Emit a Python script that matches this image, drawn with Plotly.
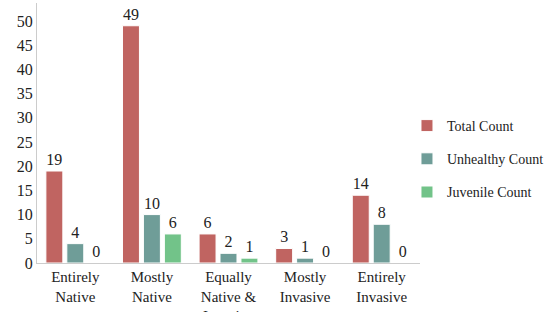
import plotly.graph_objects as go

categories = ["Entirely<br>Native", "Mostly<br>Native", "Equally<br>Native &<br>Invasive", "Mostly<br>Invasive", "Entirely<br>Invasive"]
total_count = [19, 49, 6, 3, 14]
unhealthy_count = [4, 10, 2, 1, 8]
juvenile_count = [0, 6, 1, 0, 0]

series = [
    ("Total Count", total_count, "#c06461"),
    ("Unhealthy Count", unhealthy_count, "#6f9d98"),
    ("Juvenile Count", juvenile_count, "#72c389"),
]

FONT = "Liberation Serif"
fig = go.Figure()
for name, vals, color in series:
    fig.add_trace(go.Bar(
        x=categories, y=vals, name=name,
        marker=dict(color=color, line=dict(color="white", width=1)),
        text=vals, textposition="outside", cliponaxis=False,
        textfont=dict(family=FONT, size=16, color="#222"),
        legendgroup=name,
    ))

fig.update_layout(
    width=559, height=312,
    margin=dict(l=37, r=139, t=3, b=49),
    paper_bgcolor="white", plot_bgcolor="white",
    barmode="group", bargap=0.18, bargroupgap=0.19,
    font=dict(family=FONT, size=16, color="#222"),
    showlegend=True,
    legend=dict(x=0.966, y=0.40, xanchor="left", yanchor="middle",
                font=dict(family=FONT, size=14, color="#222"),
                tracegroupgap=12),
    xaxis=dict(showline=True, linecolor="#cccccc", linewidth=1, ticks="",
               automargin=False,
               tickfont=dict(family=FONT, size=15, color="#222"), showgrid=False),
    yaxis=dict(range=[0, 53.7], dtick=5, showline=True, linecolor="#cccccc", linewidth=1,
               ticks="", showgrid=False, zeroline=False, automargin=False,
               tickfont=dict(family=FONT, size=16, color="#222")),
)

fig.write_html("out.html", config={"displayModeBar": False},
               post_script="document.body.style.margin='0';")
